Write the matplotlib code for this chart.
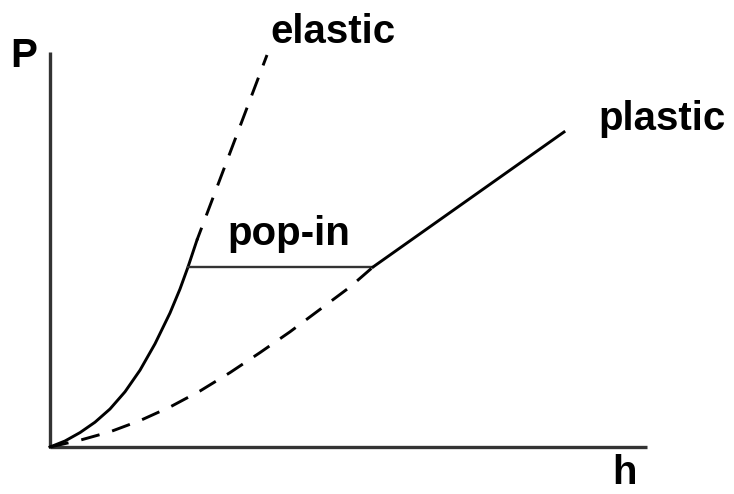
import matplotlib.pyplot as plt

# load-depth curve of nanoindentation (arbitrary units)
h_loading = [0.0, 0.3, 0.6, 0.9, 1.2, 1.5, 1.8, 2.1, 2.4, 2.6, 2.76, 2.94]
P_loading = [0.0, 0.15, 0.36, 0.62, 0.95, 1.38, 1.92, 2.58, 3.35, 3.95, 4.5, 5.175]

h_elastic = [2.94, 4.34]
P_elastic = [5.175, 9.8]

h_popin = [2.76, 6.46]
P_popin = [4.5, 4.5]

h_plastic = [6.46, 10.28]
P_plastic = [4.5, 7.875]

h_hertz = [0.0, 0.6, 1.2, 1.8, 2.4, 3.0, 3.6, 4.2, 4.8, 5.4, 6.0, 6.46]
P_hertz = [0.0, 0.17, 0.38, 0.66, 1.0, 1.4, 1.86, 2.36, 2.88, 3.44, 4.0, 4.5]

h_axis_max = 11.94
P_axis_max = 9.875

plt.rcParams['font.family'] = ['Liberation Sans', 'DejaVu Sans']

fig = plt.figure(figsize=(7.34, 4.94), dpi=100)
ax = fig.add_axes([0, 0, 1, 1])
ax.set_xlim(-1.0, 13.68)
ax.set_ylim(-1.175, 11.175)
ax.axis('off')

# axes drawn by hand
ax.plot([0, h_axis_max], [0, 0], color='#333333', lw=2.4, solid_capstyle='butt')
ax.plot([0, 0], [0, P_axis_max], color='#333333', lw=2.4, solid_capstyle='butt')

line_kw = dict(color='black', lw=2.1, solid_joinstyle='round')
ax.plot(h_loading, P_loading, **line_kw)
ax.plot(h_elastic, P_elastic, ls=(2, (6.5, 4.5)), **line_kw)
ax.plot(h_popin, P_popin, color='#333333', lw=1.7)
ax.plot(h_plastic, P_plastic, **line_kw)
ax.plot(h_hertz, P_hertz, ls=(0, (6.5, 4.5)), **line_kw)

fs = 29
ax.text(4.4, 10.1, 'elastic', fontsize=fs, fontweight='bold', ha='left', va='baseline')
ax.text(10.96, 7.925, 'plastic', fontsize=fs, fontweight='bold', ha='left', va='baseline')
ax.text(3.54, 5.05, 'pop-in', fontsize=fs, fontweight='bold', ha='left', va='baseline')
ax.text(-0.8, 9.5, 'P', fontsize=fs, fontweight='bold', ha='left', va='baseline')
ax.text(11.24, -0.92, 'h', fontsize=fs, fontweight='bold', ha='left', va='baseline')

fig.savefig('out.png', dpi=100)
